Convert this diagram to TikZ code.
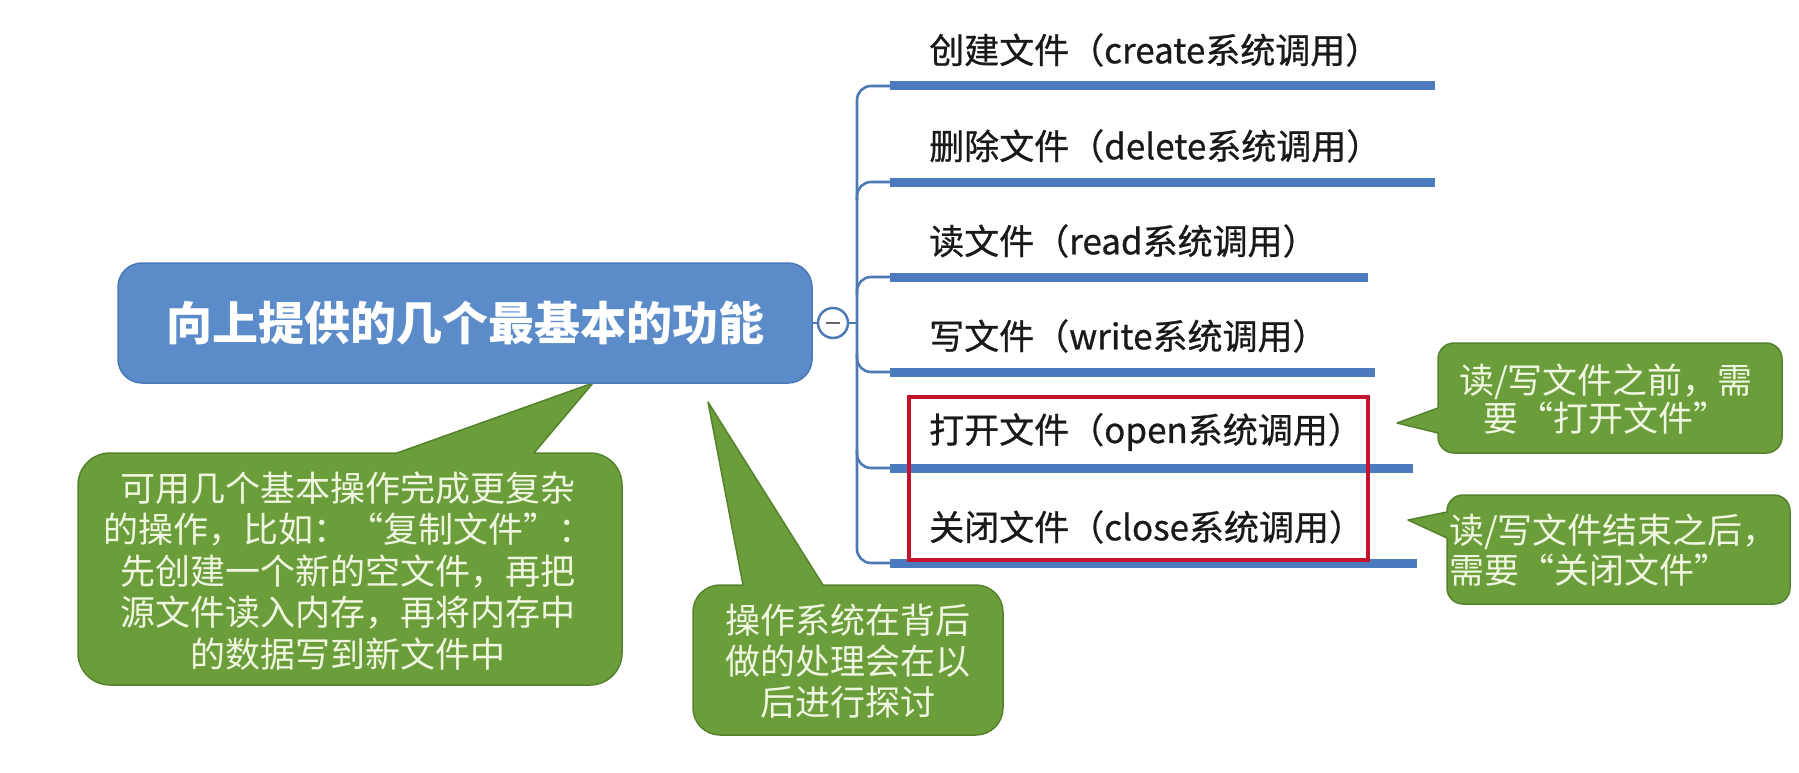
\documentclass[tikz,border=0pt]{standalone}
\usepackage{fontspec}
\setmainfont{Noto Sans CJK SC}
\usetikzlibrary{calc}
\definecolor{rootfill}{HTML}{5B8BC9}
\definecolor{rootdraw}{HTML}{4A78B8}
\definecolor{linkblue}{HTML}{4D79B4}
\definecolor{barblue}{HTML}{4B7BBE}
\definecolor{calfill}{HTML}{6C9D3B}
\definecolor{caldraw}{HTML}{55822C}
\definecolor{caltext}{HTML}{F0F7E1}
\definecolor{hlred}{HTML}{C4132F}
\tikzset{
  rootbox/.style={draw=rootdraw, line width=1.5pt, fill=rootfill, rounded corners=24pt,
    minimum width=694pt, minimum height=120pt, text=white, inner sep=0pt,
    font=\fontsize{46}{52}\selectfont\bfseries},
  togglebox/.style={circle, draw=linkblue, line width=2.5pt, fill=white, minimum size=30pt, inner sep=0pt},
  link/.style={draw=linkblue, line width=2.6pt},
  bar/.style={draw=barblue, line width=9pt},
  lbl/.style={anchor=west, inner sep=0pt, text=black!90, font=\fontsize{35}{40}\selectfont\addfontfeature{FakeBold=0.7}},
  callout/.style={fill=calfill, draw=caldraw, line width=1.5pt, line join=round},
  caltxt/.style={inner sep=0pt, text=caltext},
  hlbox/.style={draw=hlred, line width=3.2pt, minimum width=459pt, minimum height=163pt, inner sep=0pt},
}
% #1 x0, #2 y0, #3 x1, #4 y1, #5 radius, #6 pointer on top edge, #7 pointer on left edge (bottom to top)
\newcommand\callshape[7]{%
  \draw[callout] ({#1+#5},#2) #6 -- ({#3-#5},#2)
    .. controls ({#3-0.448*#5},#2) and (#3,{#2+0.448*#5}) .. (#3,{#2+#5})
    -- (#3,{#4-#5})
    .. controls (#3,{#4-0.448*#5}) and ({#3-0.448*#5},#4) .. ({#3-#5},#4)
    -- ({#1+#5},#4)
    .. controls ({#1+0.448*#5},#4) and (#1,{#4-0.448*#5}) .. (#1,{#4-#5})
    #7 -- (#1,{#2+#5})
    .. controls (#1,{#2+0.448*#5}) and ({#1+0.448*#5},#2) .. ({#1+#5},#2) -- cycle;}
\begin{document}
\begin{tikzpicture}[x=1pt,y=-1pt]
\useasboundingbox[fill=white] (0,0) rectangle (1799,773);

% callout shapes
\callshape{78}{453}{622}{685}{32}{-- (397,453) -- (593,383) -- (534,453)}{}
\callshape{693}{585}{1003}{735}{27}{-- (743,585) -- (708,402) -- (823,585)}{}
\callshape{1438}{343}{1782}{453}{16}{}{-- (1438,433) -- (1397,423) -- (1438,408)}
\callshape{1447}{495}{1790}{604}{16}{}{-- (1447,538) -- (1408,520) -- (1447,512)}

% root
\node[rootbox] (root) at (465,323) {向上提供的几个最基本的功能};
\node[togglebox, path picture={\draw[line width=2.5pt, draw=black!60]
  ([xshift=-7pt]path picture bounding box.center) -- ([xshift=7pt]path picture bounding box.center);}]
  (toggle) at (833,323) {};
\coordinate (hub) at (857,323);
\draw[link] (root.east) -- (toggle.west);
\draw[link] (toggle.east) -- (hub);

\foreach \i/\y/\e in {1/86/1435, 2/182/1435, 3/277/1368, 4/372/1375, 5/468/1413, 6/563/1417}{
  \coordinate (t\i) at (857,\y);
  \coordinate (s\i) at (890,\y);
  \coordinate (e\i) at (\e,\y);
}
\draw[link] (s1) [rounded corners=14pt] -- (t1) -- (t6) -- (s6);
\draw[link] ($(t2)+(0,18)$) [rounded corners=14pt] -- (t2) -- (s2);
\draw[link] ($(t3)+(0,18)$) [rounded corners=14pt] -- (t3) -- (s3);
\draw[link] ($(t4)+(0,-18)$) [rounded corners=14pt] -- (t4) -- (s4);
\draw[link] ($(t5)+(0,-18)$) [rounded corners=14pt] -- (t5) -- (s5);
\foreach \i in {1,...,6}{ \draw[bar] (s\i) -- (e\i); }

\node[lbl] (l1) at (929,50) {创建文件（create系统调用）};
\node[lbl] (l2) at (929,146) {删除文件（delete系统调用）};
\node[lbl] (l3) at (929,241) {读文件（read系统调用）};
\node[lbl] (l4) at (929,336) {写文件（write系统调用）};
\node[lbl] (l5) at (929,432) {打开文件（open系统调用）};
\node[lbl] (l6) at (929,527) {关闭文件（close系统调用）};

\node[hlbox] (hl) at (1138.5,478.5) {};

% callout texts
\node[caltxt, align=center, font=\fontsize{35}{41.5}\selectfont] (ta) at (348,571)
  {可用几个基本操作完成更复杂\\的操作，比如：“复制文件”：\\先创建一个新的空文件，再把\\源文件读入内存，再将内存中\\的数据写到新文件中};
\node[caltxt, align=center, font=\fontsize{35}{41}\selectfont] (tb) at (848,661)
  {操作系统在背后\\做的处理会在以\\后进行探讨};
\node[caltxt, align=center, font=\fontsize{35}{38}\selectfont] (tc) at (1606,399)
  {读/写文件之前，需\\要“打开文件”};
\node[caltxt, align=left, anchor=west, font=\fontsize{35}{40}\selectfont] (td) at (1449,550)
  {读/写文件结束之后，\\需要“关闭文件”};
\end{tikzpicture}
\end{document}
